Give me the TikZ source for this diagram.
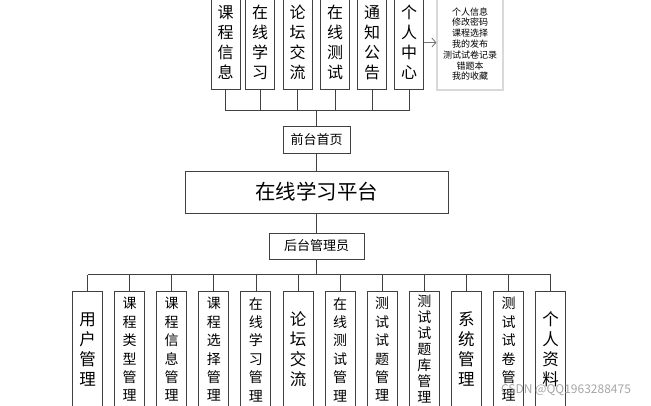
\documentclass[tikz,border=0pt]{standalone}
\usepackage{fontspec}
\setmainfont{Noto Sans CJK SC}
\usetikzlibrary{arrows.meta}
\begin{document}
\begin{tikzpicture}[x=1pt,y=-1pt]

  \tikzset{box/.style={draw=black!75,line width=0.9pt,fill=white,inner sep=0pt,align=center},
    topbox/.style={box,minimum width=29pt,minimum height=94pt,anchor=south,font=\fontsize{16}{20}\selectfont},
    botbox/.style={box,minimum width=30pt,minimum height=116pt,anchor=north},
    vbig/.style={font=\fontsize{16.5}{20}\selectfont},
    vmid/.style={font=\fontsize{14}{18.4}\selectfont},
    vsmall/.style={font=\fontsize{14}{16}\selectfont},
    link/.style={draw=black!75,line width=0.8pt}}
  \useasboundingbox (0,0) rectangle (651,405);
  % front end
  \foreach \i/\x/\txt in {0/225.5/{课\\程\\信\\息},1/260/{在\\线\\学\\习},2/297.5/{论\\坛\\交\\流},
      3/335/{在\\线\\测\\试},4/372/{通\\知\\公\\告},5/409/{个\\人\\中\\心}} {
    \node[topbox] (t\i) at (\x,90) {\txt};
  }
  \node[box,draw=black!15,line width=1.2pt,minimum width=66pt,minimum height=92pt,
    font=\fontsize{9}{10.8}\selectfont] (info) at (470,44)
    {个人信息\\修改密码\\课程选择\\我的发布\\测试试卷记录\\错题本\\我的收藏};
  \draw[link,draw=black!55,-{Straight Barb[length=4pt,width=9pt]}] (t5.east) -- (t5.east -| info.west);
  \node[box,minimum width=67pt,minimum height=27pt,font=\fontsize{13}{15}\selectfont] (front) at (316.5,139.5) {前台首页};
  \node[box,minimum width=263pt,minimum height=42pt,font=\fontsize{20.5}{24}\selectfont] (platform) at (316.5,192) {在线学习平台};
  \node[box,minimum width=95pt,minimum height=26pt,font=\fontsize{13}{15}\selectfont] (admin) at (316.5,246) {后台管理员};
  \coordinate (tbus) at (316.5,110.5);
  \coordinate (bbus) at (316.5,274.5);
  \foreach \i in {0,...,5} {
    \draw[link] (t\i.south) -- (t\i.south |- tbus);
  }
  \draw[link] (t0.south |- tbus) -- (t5.south |- tbus);
  \draw[link] (tbus) -- (front.north);
  \draw[link] (front) -- (platform);
  \draw[link] (platform) -- (admin);
  \draw[link] (admin.south) -- (bbus);
  % back end
  \foreach \i/\txt/\fs in {0/{用\\户\\管\\理}/vbig,1/{课\\程\\类\\型\\管\\理}/vmid,2/{课\\程\\信\\息\\管\\理}/vmid,
      3/{课\\程\\选\\择\\管\\理}/vmid,4/{在\\线\\学\\习\\管\\理}/vmid,5/{论\\坛\\交\\流}/vbig,
      6/{在\\线\\测\\试\\管\\理}/vmid,7/{测\\试\\试\\题\\管\\理}/vmid,8/{测\\试\\试\\题\\库\\管\\理}/vsmall,
      9/{系\\统\\管\\理}/vbig,10/{测\\试\\试\\卷\\管\\理}/vmid,11/{个\\人\\资\\料}/vbig} {
    \node[botbox,\fs] (b\i) at (87.5+42.1*\i,291) {\txt};
    \draw[link] (b\i.north) -- (b\i.north |- bbus);
  }
  \draw[link] (b0.north |- bbus) -- (b11.north |- bbus);
  \node[text=black!35,font=\fontsize{12}{14}\selectfont] (mark) at (566,390.5) {CSDN @QQ1963288475};
\end{tikzpicture}
\end{document}
